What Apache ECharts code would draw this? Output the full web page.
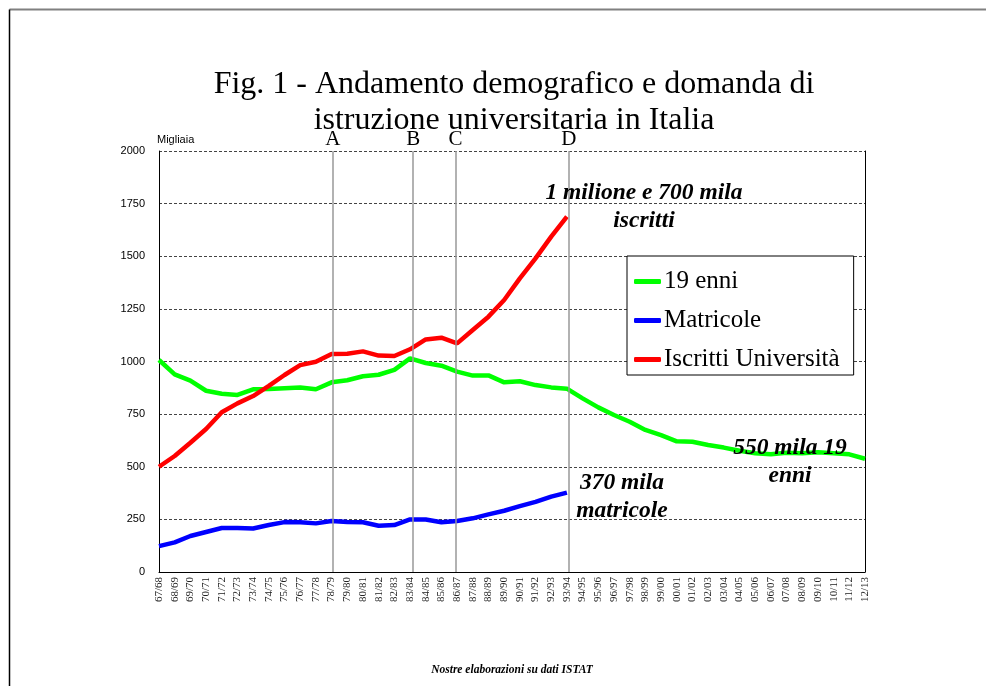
<!DOCTYPE html>
<html>
<head>
<meta charset="utf-8">
<script src="https://cdn.jsdelivr.net/npm/echarts@6/dist/echarts.min.js"></script>
<style>
  html, body { margin: 0; padding: 0; background: #fff; }
  #chart { width: 986px; height: 686px; }
</style>
</head>
<body>
<div id="chart"></div>
<script>
const years = [
  '67/68', '68/69', '69/70', '70/71', '71/72', '72/73', '73/74', '74/75', '75/76', '76/77',
  '77/78', '78/79', '79/80', '80/81', '81/82', '82/83', '83/84', '84/85', '85/86', '86/87',
  '87/88', '88/89', '89/90', '90/91', '91/92', '92/93', '93/94', '94/95', '95/96', '96/97',
  '97/98', '98/99', '99/00', '00/01', '01/02', '02/03', '03/04', '04/05', '05/06', '06/07',
  '07/08', '08/09', '09/10', '10/11', '11/12', '12/13'
]

// migliaia
const diciannovenni = [
  1007, 939, 909, 861, 847, 841, 868, 869, 873, 877,
  868, 901, 911, 930, 937, 960, 1015, 993, 980, 952,
  933, 934, 901, 906, 888, 877, 871, 825, 782, 746,
  714, 675, 650, 621, 619, 603, 591, 576, 564, 559,
  567, 564, 569, 564, 559, 538
]
const matricole = [
  123, 141, 171, 190, 209, 209, 207, 223, 237, 236,
  231, 242, 237, 236, 220, 223, 250, 249, 236, 242,
  255, 274, 291, 313, 333, 358, 377
]
const iscritti = [
  500, 551, 614, 679, 759, 801, 836, 884, 936, 983,
  999, 1036, 1037, 1048, 1028, 1026, 1058, 1105, 1113, 1086,
  1150, 1213, 1292, 1395, 1490, 1593, 1688
]

const yTicks = [0, 250, 500, 750, 1000, 1250, 1500, 1750, 2000]

// vertical reference lines (position in category steps)
const eventNames = ['A', 'B', 'C', 'D']
const eventPos = [11.08, 16.2, 18.9, 26.13]

const serif = 'Liberation Serif'
const sans = 'Liberation Sans'

const chart = echarts.init(document.getElementById('chart'))

const lineSeries = (name, data, color) => ({
  name,
  type: 'line',
  data,
  symbol: 'none',
  smooth: false,
  lineStyle: { color, width: 4.5 },
  itemStyle: { color },
  z: 3
})

const noteText = (x, y, text, size) => ({
  type: 'text',
  x, y,
  style: {
    text,
    align: 'center',
    verticalAlign: 'middle',
    font: 'italic bold ' + size + 'px "' + serif + '"',
    lineHeight: 28,
    fill: '#000'
  },
  z: 10
})

chart.setOption({
  backgroundColor: '#fff',
  animation: false,
  title: {
    text: 'Fig. 1 - Andamento demografico e domanda di\nistruzione universitaria in Italia',
    left: 514,
    top: 67,
    textAlign: 'center',
    padding: 0,
    textStyle: {
      fontFamily: serif,
      fontSize: 32,
      lineHeight: 36,
      fontWeight: 'normal',
      color: '#000'
    }
  },
  legend: {
    orient: 'vertical',
    left: 627,
    top: 256,
    padding: [13, 14, 3, 7],
    itemGap: 14,
    itemWidth: 27,
    itemHeight: 5,
    icon: 'roundRect',
    backgroundColor: '#fff',
    borderColor: '#000',
    borderWidth: 1,
    textStyle: { fontFamily: serif, fontSize: 25, color: '#000', padding: [0, 0, 0, -2] },
    data: ['19 enni', 'Matricole', 'Iscritti Università'],
    z: 20
  },
  grid: { left: 159, right: 121, top: 151, bottom: 114 },
  xAxis: [
    {
      type: 'category',
      data: years,
      boundaryGap: false,
      axisLine: { lineStyle: { color: '#000', width: 1 } },
      axisTick: { show: false },
      axisLabel: {
        interval: 0,
        rotate: 90,
        margin: 5,
        fontFamily: serif,
        fontSize: 11,
        color: '#222'
      },
      splitLine: { show: false }
    },
    {
      type: 'value',
      min: 0,
      max: years.length - 1,
      show: false
    }
  ],
  yAxis: [
    {
      type: 'value',
      min: yTicks[0],
      max: yTicks[yTicks.length - 1],
      interval: 250,
      name: 'Migliaia',
      nameLocation: 'end',
      nameGap: 6,
      nameTextStyle: { fontFamily: sans, fontSize: 11, color: '#000', align: 'left', padding: [0, 0, 0, -2] },
      axisLine: { show: true, lineStyle: { color: '#000', width: 1 } },
      axisTick: { show: false },
      axisLabel: { fontFamily: sans, fontSize: 11, color: '#000', margin: 14, formatter: (v) => String(v) },
      splitLine: { lineStyle: { color: '#444', type: [3, 2], width: 1 } }
    },
    {
      type: 'value',
      min: yTicks[0],
      max: yTicks[yTicks.length - 1],
      position: 'right',
      axisLine: { show: true, lineStyle: { color: '#000', width: 1 } },
      axisTick: { show: false },
      axisLabel: { show: false },
      splitLine: { show: false }
    }
  ],
  series: [
    {
      name: 'eventi',
      type: 'line',
      xAxisIndex: 1,
      yAxisIndex: 0,
      data: [],
      silent: true,
      markLine: {
        symbol: 'none',
        silent: true,
        lineStyle: { color: '#999', type: 'solid', width: 1.5 },
        label: {
          position: 'end',
          distance: 1,
          formatter: (p) => p.name,
          fontFamily: serif,
          fontSize: 21,
          color: '#000'
        },
        data: eventPos.map((x, i) => ({ name: eventNames[i], xAxis: x }))
      },
      z: 1
    },
    lineSeries('19 enni', diciannovenni, '#00ff00'),
    lineSeries('Matricole', matricole, '#0000ff'),
    lineSeries('Iscritti Università', iscritti, '#ff0000')
  ],
  graphic: [
    { type: 'line', shape: { x1: 9.5, y1: 9.5, x2: 986, y2: 9.5 }, style: { stroke: '#808080', lineWidth: 2 }, z: 0 },
    { type: 'line', shape: { x1: 9.5, y1: 9.5, x2: 9.5, y2: 686 }, style: { stroke: '#000', lineWidth: 1.5 }, z: 0 },
    noteText(644, 207, '1 milione e 700 mila\niscritti', 23.5),
    noteText(622, 497, '370 mila\nmatricole', 23.5),
    noteText(790, 462, '550 mila 19\nenni', 23.5),
    {
      type: 'text',
      x: 512,
      y: 670,
      style: {
        text: 'Nostre elaborazioni su dati ISTAT',
        align: 'center',
        verticalAlign: 'middle',
        font: 'italic bold 11.5px "' + serif + '"',
        fill: '#000'
      }
    }
  ]
})
</script>
</body>
</html>
